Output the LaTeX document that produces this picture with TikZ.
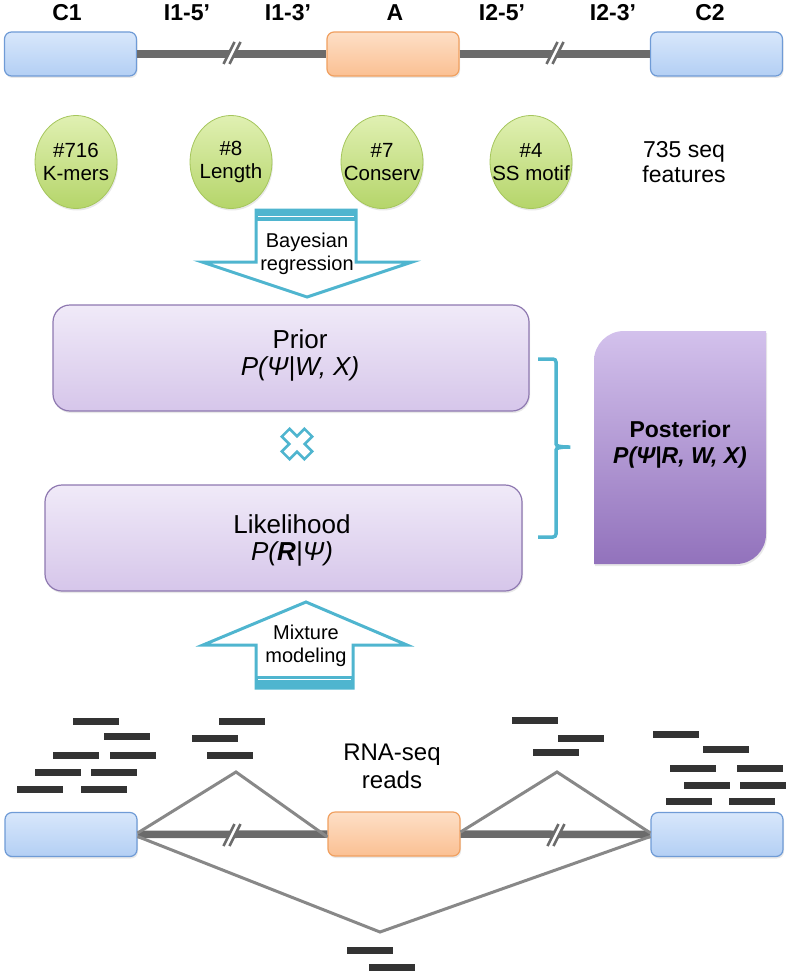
\documentclass[tikz,border=0pt]{standalone}
\usepackage{fontspec}
\setmainfont{Liberation Sans}
\usetikzlibrary{shapes.geometric,shadows}
\definecolor{exonBt}{HTML}{D8E7FB}
\definecolor{exonBb}{HTML}{B3CFF4}
\definecolor{exonBd}{HTML}{6F9BD6}
\definecolor{exonOt}{HTML}{FDDFC6}
\definecolor{exonOb}{HTML}{FBC093}
\definecolor{exonOd}{HTML}{F0A060}
\definecolor{introng}{HTML}{6B6B6B}
\definecolor{junc}{HTML}{888888}
\definecolor{readc}{HTML}{333333}
\definecolor{greent}{HTML}{E0F0B2}
\definecolor{greenb}{HTML}{B5D56A}
\definecolor{greend}{HTML}{A5C65C}
\definecolor{purt}{HTML}{F0EAF8}
\definecolor{purb}{HTML}{D6C6EA}
\definecolor{purd}{HTML}{8E78B0}
\definecolor{post}{HTML}{D3C1EC}
\definecolor{posb}{HTML}{9272BC}
\definecolor{cyanc}{HTML}{4FB5CF}
\tikzset{
  softshadow/.style={drop shadow={opacity=0.18, shadow xshift=1pt, shadow yshift=-2pt}},
  lbl/.style={font=\fontsize{23}{27}\bfseries\selectfont, inner sep=0},
  exonblue/.style={draw=exonBd, line width=1.2, top color=exonBt, bottom color=exonBb, rounded corners=7, minimum width=132, minimum height=44, inner sep=0, softshadow},
  exonorange/.style={draw=exonOd, line width=1.2, top color=exonOt, bottom color=exonOb, rounded corners=7, minimum width=132, minimum height=44, inner sep=0, softshadow},
  intron/.style={draw=introng, line width=7.5},
  brk/.style={draw=introng, line width=2.6},
  junction/.style={draw=junc, line width=3, line join=miter},
  feat/.style={ellipse, draw=greend, line width=0.8, top color=greent, bottom color=greenb, minimum width=82, minimum height=93, inner ysep=0, inner xsep=-10pt, align=center, font=\fontsize{20.5}{23}\selectfont, softshadow},
  plain/.style={align=center, inner sep=0},
  pbox/.style={draw=purd, line width=1.2, top color=purt, bottom color=purb, rounded corners=17, inner sep=0, softshadow},
  boxtext/.style={align=center, inner sep=0, font=\fontsize{26}{27}\selectfont},
  cyanline/.style={draw=cyanc, line width=3, line join=miter},
  arrowtext/.style={align=center, inner sep=0, font=\fontsize{20}{23.5}\selectfont},
}
\begin{document}
\begin{tikzpicture}[x=1pt, y=-1pt]
\useasboundingbox (0,0) rectangle (788,971);

% ---------- top gene model ----------
\node[exonblue] (c1) at (70.5,54) {};
\node[exonorange] (a) at (393,54) {};
\node[exonblue] (c2) at (716.5,54) {};
\draw[intron] (c1.east) -- (a.west);
\draw[intron] (a.east) -- (c2.west);

\node[lbl] (lc1) at (67,13) {C1};
\node[lbl] (li15) at (187,13) {I1-5’};
\node[lbl] (li13) at (288,13) {I1-3’};
\node[lbl] (la) at (395,13) {A};
\node[lbl] (li25) at (502,13) {I2-5’};
\node[lbl] (li23) at (613,13) {I2-3’};
\node[lbl] (lc2) at (710,13) {C2};

% ---------- features ----------
\node[feat] (f1) at (76,162) {\#716\\K-mers};
\node[feat] (f2) at (231,162) {\#8\\Length};
\node[feat] (f3) at (382,162) {\#7\\Conserv};
\node[feat] (f4) at (531,162) {\#4\\SS motif};
\node[plain, font=\fontsize{23}{25}\selectfont] (nfeat) at (684,162) {735 seq\\features};

% ---------- Bayesian regression arrow ----------
\draw[cyanline, fill=white] (256,210) -- (356,210) -- (356,262) -- (412,262) -- (307,297) -- (202,262) -- (256,262) -- cycle;
\fill[cyanc] (256,210) rectangle (356,221);
\draw[white, line width=1.5] (258,216.5) -- (354,216.5);
\node[arrowtext] (bayes) at (307,254) {Bayesian\\regression};

% ---------- prior / likelihood ----------
\node[pbox, minimum width=476, minimum height=106] (prior) at (291,358) {};
\node[boxtext] (priortxt) at (300,355) {Prior\\\textit{P(Ψ|W, X)}};
\node[pbox, minimum width=477, minimum height=106] (lik) at (283.5,538) {};
\node[boxtext] (liktxt) at (292,540) {Likelihood\\\textit{P(\textbf{R}|Ψ)}};

% times sign
\begin{scope}[shift={(297,444)}, rotate=45]
\draw[draw=cyanc, line width=2.6, fill=white, line join=miter]
  (-5.5,-16) -- (5.5,-16) -- (5.5,-5.5) -- (16,-5.5) -- (16,5.5) -- (5.5,5.5) -- (5.5,16) -- (-5.5,16) -- (-5.5,5.5) -- (-16,5.5) -- (-16,-5.5) -- (-5.5,-5.5) -- cycle;
\end{scope}

% bracket
\draw[draw=cyanc, line width=3.5, rounded corners=3]
  (538,359) -- (556,359) -- (556,441) .. controls (556,446) and (560,447) .. (572,447)
  .. controls (560,447) and (556,448) .. (556,453) -- (556,537) -- (538,537);

% posterior
\path[top color=post, bottom color=posb, softshadow]
  (594,564) -- (594,361) .. controls (594,344.4) and (607.4,331) .. (624,331) -- (766,331)
  -- (766,534) .. controls (766,550.6) and (752.6,564) .. (736,564) -- cycle;
\node[plain, font=\fontsize{23}{26}\bfseries\selectfont] (posttxt) at (680,445) {Posterior\\\textit{P(Ψ|R, W, X)}};

% ---------- Mixture modeling arrow ----------
\draw[cyanline, fill=white] (256,688) -- (353,688) -- (353,645) -- (407,645) -- (306,602) -- (203,645) -- (256,645) -- cycle;
\fill[cyanc] (256,676) rectangle (353,688);
\draw[white, line width=1.5] (258,679.5) -- (351,679.5);
\node[arrowtext] (mix) at (306,646) {Mixture\\modeling};

% ---------- bottom gene model with reads ----------
\node[exonblue] (c1b) at (71,834.5) {};
\node[exonorange] (ab) at (394,834) {};
\node[exonblue] (c2b) at (717,834.5) {};
\draw[intron] (c1b.east) -- (ab.west);
\draw[intron] (ab.east) -- (c2b.west);
\coordinate (j1) at (236,772);
\coordinate (j2) at (557,772);
\coordinate (jv) at (380,932);
\draw[junction] ([yshift=1.5pt]c1b.east) -- (j1) -- ([yshift=-3pt]ab.west);
\draw[junction] ([yshift=2pt]ab.east) -- (j2) -- ([yshift=1.5pt]c2b.west);
\draw[junction] ([yshift=-2pt]c1b.east) -- (jv) -- ([yshift=-2pt]c2b.west);

% break marks
\coordinate (bk1) at (232,53);
\coordinate (bk2) at (555,53);
\coordinate (bk3) at (232,835);
\coordinate (bk4) at (556,835);
\foreach \p in {bk1,bk2,bk3,bk4} {
  \draw[white, line width=4] ([shift={(-5.5,11)}]\p) -- ([shift={(5.5,-11)}]\p);
  \draw[brk] ([shift={(-8.5,11)}]\p) -- ([shift={(2.5,-11)}]\p);
  \draw[brk] ([shift={(-2.5,11)}]\p) -- ([shift={(8.5,-11)}]\p);
}

% reads
\foreach \rx/\ry in {73/718,104/733,53/752,110/752,35/769,91/769,17/786,81/786,
  219/718,192/735,207/752,347/947,369/964,
  512/717,558/735,533/749,
  653/731,703/746,670/765,737/765,684/782,740/782,666/798,729/798} {
  \fill[readc] (\rx,\ry) rectangle ++(46,6.5);
}
\node[plain, font=\fontsize{24}{28}\selectfont] (rnaseq) at (392,766) {RNA-seq\\reads};

\end{tikzpicture}
\end{document}
